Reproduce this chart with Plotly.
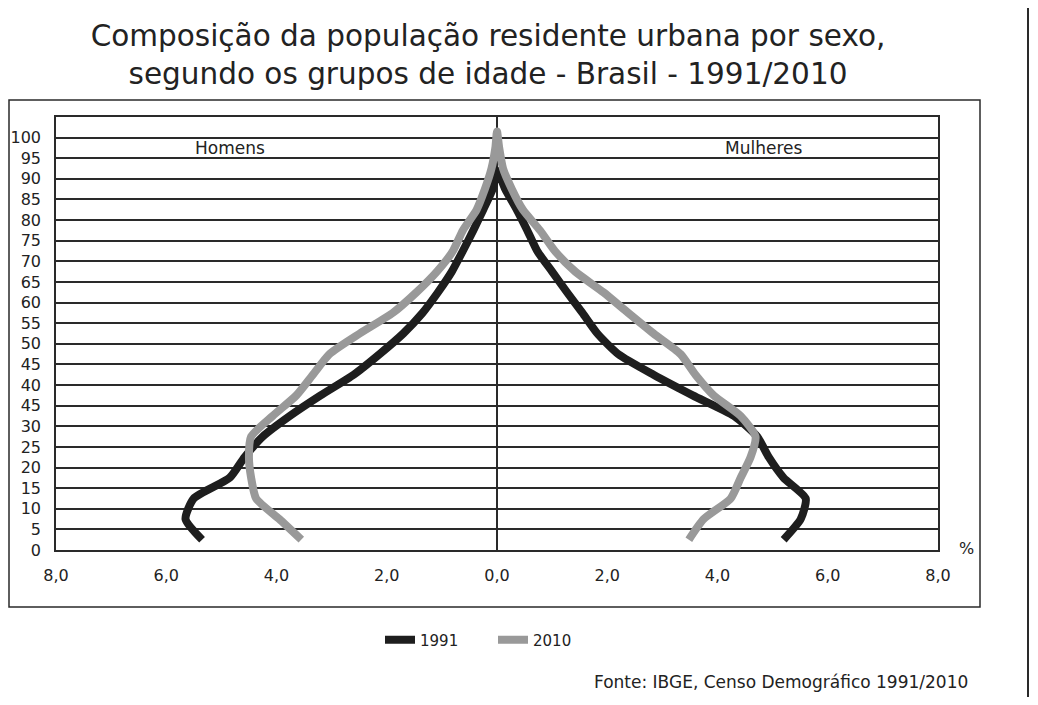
import plotly.graph_objects as go

# idade (ponto médio do grupo) e % da população urbana
idades_1991 = [2.5, 7.5, 12.5, 17.5, 22.5, 27.5, 32.5, 37.5, 42.5, 47.5,
               52.5, 57.5, 62.5, 67.5, 72.5, 77.5, 82.5, 87.5, 92.0]
homens_1991 = [5.35, 5.65, 5.5, 4.85, 4.58, 4.25, 3.76, 3.2, 2.6, 2.13,
               1.7, 1.35, 1.07, 0.82, 0.62, 0.43, 0.25, 0.08, 0.0]
mulheres_1991 = [5.2, 5.51, 5.6, 5.2, 4.93, 4.72, 4.3, 3.55, 2.84, 2.2,
                 1.82, 1.55, 1.27, 1.0, 0.73, 0.55, 0.36, 0.15, 0.0]

idades_2010 = [2.5, 7.5, 12.5, 17.5, 22.5, 27.5, 32.5, 37.5, 42.5, 47.5,
               52.5, 57.5, 62.5, 67.5, 72.5, 77.5, 82.5, 87.5, 92.5, 97.5, 101.5]
homens_2010 = [3.55, 3.95, 4.37, 4.46, 4.5, 4.46, 4.07, 3.64, 3.34, 3.04,
               2.49, 1.89, 1.46, 1.09, 0.8, 0.62, 0.37, 0.22, 0.1, 0.03, 0.0]
mulheres_2010 = [3.48, 3.75, 4.24, 4.42, 4.6, 4.69, 4.42, 3.93, 3.6, 3.33,
                 2.84, 2.38, 1.93, 1.42, 1.05, 0.78, 0.47, 0.27, 0.11, 0.04, 0.0]

x_ticks = [-8, -6, -4, -2, 0, 2, 4, 6, 8]
x_labels = ["8,0", "6,0", "4,0", "2,0", "0,0", "2,0", "4,0", "6,0", "8,0"]
y_ticks = list(range(0, 101, 5))
# o original traz "45" no lugar de 35
y_labels = ["0", "5", "10", "15", "20", "25", "30", "45", "40", "45", "50",
            "55", "60", "65", "70", "75", "80", "85", "90", "95", "100"]

FONT = "DejaVu Sans"
INK = "#222222"
LINHA = "#2a2a2a"

# a página tem 8px de margem no body; a figura fica dentro dela
W, H = 1022, 689
L, R, T, B = 48, 92, 109, 147
PW, PH = W - L - R, H - T - B


def px(x):
    return (x - L) / PW


def py(y):
    return (H - B - y) / PH


def piramide(idades, homens, mulheres):
    # homens à esquerda (negativo), sobe até o topo e desce pelas mulheres
    xs = [-v for v in homens] + mulheres[::-1][1:]
    ys = idades + idades[::-1][1:]
    return xs, ys


fig = go.Figure()
for ano, idades, h, m, cor in [("1991", idades_1991, homens_1991, mulheres_1991, "#1e1e1e"),
                               ("2010", idades_2010, homens_2010, mulheres_2010, "#999999")]:
    xs, ys = piramide(idades, h, m)
    fig.add_trace(go.Scatter(x=xs, y=ys, mode="lines", name=ano,
                             line=dict(color=cor, width=8, shape="spline", smoothing=0.6)))

fig.update_layout(
    width=W, height=H,
    margin=dict(l=L, r=R, t=T, b=B, autoexpand=False),
    paper_bgcolor="white", plot_bgcolor="white",
    font=dict(family=FONT, color=INK),
    title=dict(text="Composição da população residente urbana por sexo,<br>segundo os grupos de idade - Brasil - 1991/2010",
               x=(488 - 8) / W, xanchor="center", y=1 - 38 / H, yanchor="top",
               font=dict(size=29.5, color=INK)),
    legend=dict(orientation="h", x=px(372), xanchor="left", y=py(632), yanchor="middle",
                font=dict(size=15), entrywidth=68, entrywidthmode="pixels"),
    showlegend=True,
)
fig.update_xaxes(range=[-8, 8], tickvals=x_ticks, ticktext=x_labels, tickfont=dict(size=16),
                 showgrid=False, zeroline=True, zerolinecolor=LINHA, zerolinewidth=1.5,
                 showline=True, linecolor=LINHA, linewidth=1.5, mirror=True,
                 ticks="", ticklabelstandoff=10, fixedrange=True, automargin=False)
fig.update_yaxes(range=[0, 105], tickvals=y_ticks, ticktext=y_labels, tickfont=dict(size=16),
                 showgrid=True, gridcolor=LINHA, gridwidth=1.5, zeroline=False,
                 showline=True, linecolor=LINHA, linewidth=1.5, mirror=True,
                 ticks="", ticklabelstandoff=10, fixedrange=True, automargin=False)

fig.add_annotation(x=-4.85, y=97.5, text="Homens", showarrow=False, font=dict(size=17))
fig.add_annotation(x=4.84, y=97.5, text="Mulheres", showarrow=False, font=dict(size=17))
fig.add_annotation(x=px(958), y=py(540), xref="paper", yref="paper", xanchor="center",
                   yanchor="middle", text="%", showarrow=False, font=dict(size=16))
fig.add_annotation(x=px(962), y=py(674), xref="paper", yref="paper", xanchor="right",
                   yanchor="middle", text="Fonte: IBGE, Censo Demográfico 1991/2010",
                   showarrow=False, font=dict(size=17))

# moldura do gráfico e linha da página à direita
fig.add_shape(type="rect", xref="paper", yref="paper",
              x0=px(1), x1=px(972), y0=py(599), y1=py(92),
              line=dict(color=LINHA, width=1.5))
fig.add_shape(type="line", xref="paper", yref="paper",
              x0=px(1020), x1=px(1020), y0=py(H), y1=py(0),
              line=dict(color=LINHA, width=2))

fig.write_html("out.html")
